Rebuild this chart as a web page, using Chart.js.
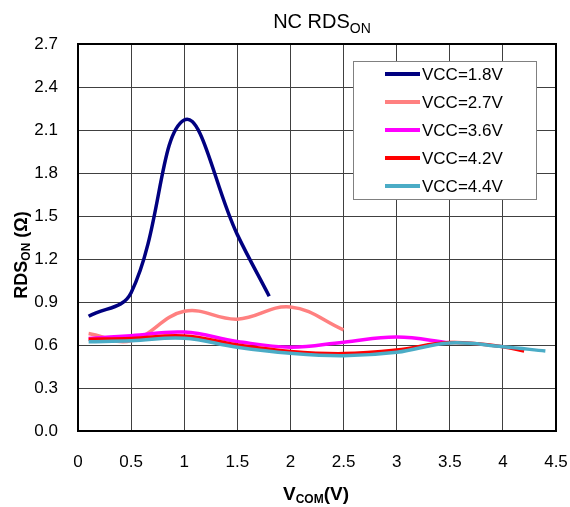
<!DOCTYPE html>
<html>
<head>
<meta charset="utf-8">
<title>NC RDSon</title>
<script src="https://cdn.jsdelivr.net/npm/chart.js@4.4.1/dist/chart.umd.min.js"></script>
<style>
  html, body { margin: 0; padding: 0; background: #fff; }
  canvas { display: block; }
</style>
</head>
<body>
<canvas id="rdsChart" width="570" height="507"></canvas>
<script>
// axis ticks
const xTicks = [0, 0.5, 1, 1.5, 2, 2.5, 3, 3.5, 4, 4.5]
const yTicks = [0, 0.3, 0.6, 0.9, 1.2, 1.5, 1.8, 2.1, 2.4, 2.7]

// series: V_COM (V) vs RDS_ON (ohm)
const seriesLabels = ["VCC=1.8V", "VCC=2.7V", "VCC=3.6V", "VCC=4.2V", "VCC=4.4V"]
const seriesColors = ["#000080", "#FF8080", "#FF00FF", "#FF0000", "#4BACC6"]

const vcc18X = [0.1, 0.5, 1.0, 1.5, 1.8]
const vcc18Y = [0.80, 0.965, 2.17, 1.37, 0.94]
const vcc27X = [0.1, 0.5, 1.0, 1.5, 2.0, 2.5]
const vcc27Y = [0.68, 0.63, 0.835, 0.78, 0.865, 0.705]
const vcc36X = [0.1, 0.5, 1.0, 1.5, 2.0, 2.5, 3.0, 3.5]
const vcc36Y = [0.645, 0.665, 0.69, 0.625, 0.585, 0.62, 0.655, 0.615]
const vcc42X = [0.1, 0.5, 1.0, 1.5, 2.0, 2.5, 3.0, 3.5, 4.0, 4.2]
const vcc42Y = [0.64, 0.645, 0.663, 0.60, 0.555, 0.54, 0.565, 0.617, 0.588, 0.558]
const vcc44X = [0.1, 0.5, 1.0, 1.5, 2.0, 2.5, 3.0, 3.5, 4.0, 4.4]
const vcc44Y = [0.623, 0.63, 0.647, 0.584, 0.542, 0.525, 0.549, 0.614, 0.588, 0.558]

const xs = [vcc18X, vcc27X, vcc36X, vcc42X, vcc44X]
const ys = [vcc18Y, vcc27Y, vcc36Y, vcc42Y, vcc44Y]

const FONT = "'Liberation Sans', Arial, sans-serif"
Chart.defaults.font.family = FONT

// text with a subscript part, parts = [[text, size, dy], ...]
function partsWidth(ctx, parts, weight) {
  let w = 0
  for (const [t, size] of parts) {
    ctx.font = weight + " " + size + "px " + FONT
    w += ctx.measureText(t).width
  }
  return w
}
function drawParts(ctx, parts, weight, cx, baseline) {
  let x = cx - partsWidth(ctx, parts, weight) / 2
  ctx.textAlign = "left"
  ctx.textBaseline = "alphabetic"
  for (const [t, size, dy] of parts) {
    ctx.font = weight + " " + size + "px " + FONT
    ctx.fillText(t, x, baseline + dy)
    x += ctx.measureText(t).width
  }
}

const decorations = {
  id: "decorations",
  afterDatasetsDraw(chart) {
    const { ctx, chartArea: a } = chart
    ctx.save()
    // frame round the plot
    ctx.strokeStyle = "#000"
    ctx.lineWidth = 2
    ctx.strokeRect(a.left, a.top, a.right - a.left, a.bottom - a.top)

    // legend box
    const bx = 353.5, by = 61.5, bw = 183, bh = 138
    ctx.fillStyle = "#fff"
    ctx.fillRect(bx, by, bw, bh)
    ctx.strokeStyle = "#808080"
    ctx.lineWidth = 1
    ctx.strokeRect(bx, by, bw, bh)
    chart.data.datasets.forEach((ds, i) => {
      const yy = 74 + i * 28
      ctx.strokeStyle = ds.borderColor
      ctx.lineWidth = 4
      ctx.beginPath()
      ctx.moveTo(385, yy)
      ctx.lineTo(420, yy)
      ctx.stroke()
      ctx.fillStyle = "#000"
      ctx.font = "17px " + FONT
      ctx.textAlign = "left"
      ctx.textBaseline = "middle"
      ctx.fillText(ds.label, 422, yy + 1)
    })

    // titles
    ctx.fillStyle = "#000"
    drawParts(ctx, [["NC RDS", 20, 0], ["ON", 14, 5]], "normal", 322, 28)
    drawParts(ctx, [["V", 19, 0], ["COM", 12, 3], ["(V)", 19, 0]], "bold", 316, 500)
    ctx.translate(27, 255)
    ctx.rotate(-Math.PI / 2)
    drawParts(ctx, [["RDS", 18, 0], ["ON", 12, 3], [" (\u03A9)", 18, 0]], "bold", 0, 0)
    ctx.restore()
  },
}

const datasets = seriesLabels.map((label, i) => ({
  label: label,
  data: xs[i].map((x, j) => ({ x: x, y: ys[i][j] })),
  borderColor: seriesColors[i],
  backgroundColor: seriesColors[i],
  borderWidth: 3.5,
  pointRadius: 0,
  tension: 0.4,
  fill: false,
  order: seriesLabels.length - i,
}))

new Chart(document.getElementById("rdsChart"), {
  type: "line",
  data: { datasets },
  options: {
    responsive: false,
    animation: false,
    layout: { padding: { top: 44, right: 14, left: 0, bottom: 0 } },
    plugins: {
      legend: { display: false },
      title: { display: false },
      tooltip: { enabled: false },
    },
    scales: {
      x: {
        type: "linear",
        min: 0,
        max: 4.5,
        afterFit: (s) => {
          s.height = 76
          s.paddingLeft = 0
          s.paddingRight = 0
        },
        afterBuildTicks: (s) => { s.ticks = xTicks.map((v) => ({ value: v })) },
        grid: { color: "#404040", lineWidth: 1, drawTicks: false },
        border: { display: false },
        ticks: {
          color: "#000",
          font: { size: 17 },
          padding: 21,
          maxRotation: 0,
          callback: (v) => String(Number(v)),
        },
      },
      y: {
        min: 0,
        max: 2.7,
        afterFit: (s) => {
          s.width = 78
          s.paddingTop = 0
          s.paddingBottom = 0
        },
        afterBuildTicks: (s) => { s.ticks = yTicks.map((v) => ({ value: v })) },
        grid: { color: "#404040", lineWidth: 1, drawTicks: false },
        border: { display: false },
        ticks: {
          color: "#000",
          font: { size: 17 },
          padding: 20,
          callback: (v) => Number(v).toFixed(1),
        },
      },
    },
  },
  plugins: [decorations],
})
</script>
</body>
</html>
